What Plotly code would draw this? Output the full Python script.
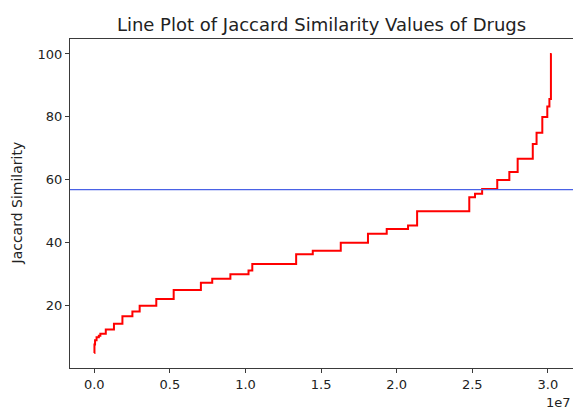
import plotly.graph_objects as go

# Sorted Jaccard similarity values (step curve): x = start index of each level, y = level (%)
step_x = [0, 10_000, 50_000, 150_000, 300_000, 400_000, 760_000, 1_300_000,
          1_860_000, 2_520_000, 3_000_000, 4_100_000, 5_250_000, 7_050_000,
          7_800_000, 9_000_000, 10_200_000, 10_450_000, 13_350_000, 14_450_000,
          16_300_000, 18_100_000, 19_340_000, 20_750_000, 21_350_000, 24_800_000,
          25_180_000, 25_650_000, 26_650_000, 27_450_000, 28_000_000, 29_000_000,
          29_250_000, 29_630_000, 29_960_000, 30_100_000, 30_200_000, 30_250_000]
step_y = [5.0, 7.7, 9.1, 10.0, 10.5, 11.1, 12.5, 14.3,
          16.7, 18.2, 20.0, 22.2, 25.0, 27.3,
          28.6, 30.0, 31.25, 33.3, 36.4, 37.5,
          40.0, 42.9, 44.4, 45.5, 50.0, 54.5,
          55.6, 57.1, 60.0, 62.5, 66.7, 71.4,
          75.0, 80.0, 83.3, 85.7, 100.0, 100.0]

threshold = 56.9

x_tick_vals = [0, 5_000_000, 10_000_000, 15_000_000, 20_000_000, 25_000_000, 30_000_000]
x_tick_text = ["0.0", "0.5", "1.0", "1.5", "2.0", "2.5", "3.0"]
y_tick_vals = [20, 40, 60, 80, 100]

FONT = "DejaVu Sans"
AX = "#3a3a3a"

fig = go.Figure()
fig.add_trace(go.Scatter(
    x=step_x, y=step_y, mode="lines", line=dict(color="#ff0000", width=2, shape="hv"),
    showlegend=False, hoverinfo="skip"))

fig.add_shape(type="line", xref="paper", x0=0, x1=1, yref="y", y0=threshold, y1=threshold,
              line=dict(color="#4a62e6", width=1.2))

fig.update_layout(
    width=573, height=410,
    margin=dict(l=70, r=0, t=39, b=42),
    paper_bgcolor="white", plot_bgcolor="white",
    font=dict(family=FONT, size=13, color="#222"),
    title=dict(text="Line Plot of Jaccard Similarity Values of Drugs",
               font=dict(family=FONT, size=18, color="#222"),
               x=0.5, xanchor="center", xref="paper", y=1 - 24.5 / 410, yanchor="middle"),
    xaxis=dict(range=[-1_607_000, 31_660_000], tickvals=x_tick_vals, ticktext=x_tick_text,
               showgrid=False, zeroline=False, showline=True, mirror=True,
               linecolor=AX, linewidth=1, ticks="outside", ticklen=4, tickcolor=AX,
               tickfont=dict(size=13, color="#222")),
    yaxis=dict(range=[0.25, 104.75], tickvals=y_tick_vals,
               showgrid=False, zeroline=False, showline=True, mirror=True,
               linecolor=AX, linewidth=1, ticks="outside", ticklen=4, tickcolor=AX,
               tickfont=dict(size=13, color="#222")),
    annotations=[
        dict(text="Jaccard Similarity", textangle=-90, xref="paper", yref="paper",
             x=(16 - 70) / 503, y=0.5, xanchor="center", yanchor="middle",
             showarrow=False, font=dict(family=FONT, size=14, color="#222")),
        dict(text="1e7", xref="paper", yref="paper", x=1, y=(368 - 402) / 329,
             xanchor="right", yanchor="middle", showarrow=False,
             font=dict(family=FONT, size=13, color="#222")),
    ],
)

fig.write_html("out.html", config={"displayModeBar": False},
               post_script="document.body.style.margin='0';")
